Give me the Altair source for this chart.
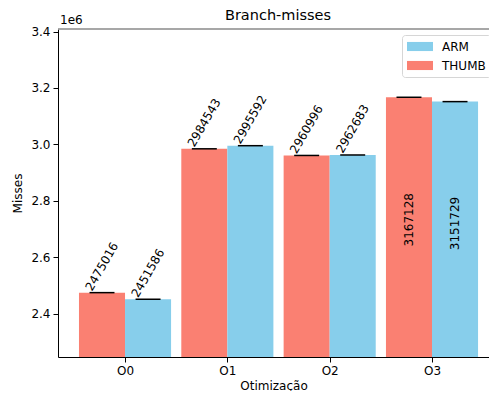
import altair as alt
import pandas as pd

opts = ["O0", "O1", "O2", "O3"]
thumb = [2475016, 2984543, 2960996, 3167128]
arm = [2451586, 2995592, 2962683, 3151729]
series = ["ARM", "THUMB"]
colors = ["#87CEEB", "#FA8072"]
y_ticks = [2.4e6, 2.6e6, 2.8e6, 3.0e6, 3.2e6, 3.4e6]

rows = []
for i, o in enumerate(opts):
    rows.append({"opt": o, "idx": i, "type": "THUMB", "value": thumb[i]})
    rows.append({"opt": o, "idx": i, "type": "ARM", "value": arm[i]})
df = pd.DataFrame(rows)

FONT = "DejaVu Sans"
W, H = 431, 328
xdom = [-0.655, 3.557]
ydom = [2.247e6, 3.409e6]
label_expr = "[" + ",".join(f"'{o}'" for o in opts) + "][datum.value]"

base = alt.Chart(df).transform_calculate(
    x0="datum.type == 'THUMB' ? datum.idx - 0.45 : datum.idx",
    x1="datum.type == 'THUMB' ? datum.idx : datum.idx + 0.45",
    xc="datum.type == 'THUMB' ? datum.idx - 0.225 : datum.idx + 0.225",
    e0="datum.xc - 0.122",
    e1="datum.xc + 0.122",
    zero="0",
)

xscale = alt.Scale(domain=xdom, nice=False, zero=False)
yscale = alt.Scale(domain=ydom, nice=False, zero=False)

bars = base.mark_bar(clip=True, opacity=1).encode(
    x=alt.X("x0:Q", scale=xscale,
            axis=alt.Axis(values=[0, 1, 2, 3], labelExpr=label_expr, grid=False,
                          title="Otimização", tickSize=5, tickColor="black",
                          domainColor="black", labelPadding=3, titlePadding=4)),
    x2="x1:Q",
    y=alt.Y("value:Q", scale=yscale,
            axis=alt.Axis(values=y_ticks, labelExpr="format(datum.value/1e6, '.1f')",
                          grid=False, title="Misses", tickSize=5, tickColor="black",
                          domainColor="black", labelPadding=3, titlePadding=6)),
    y2="zero:Q",
    color=alt.Color("type:N", scale=alt.Scale(domain=series, range=colors),
                    legend=alt.Legend(title=None, orient="none", legendX=344, legendY=6,
                                      symbolType="M-1,-0.7H3V0.7H-1Z", symbolSize=169,
                                      symbolStrokeWidth=0, symbolOpacity=1,
                                      labelFontSize=12, labelFont=FONT, labelOffset=22,
                                      rowPadding=6, padding=5, fillColor="white",
                                      strokeColor="#d6d6d6", cornerRadius=3)),
)

errs = base.mark_rule(color="black", strokeWidth=1.5, clip=True).encode(
    x="e0:Q", x2="e1:Q", y="value:Q"
)

top_labels = base.transform_filter("datum.value < 3.1e6").mark_text(
    angle=300, align="left", baseline="middle", fontSize=12, font=FONT,
    color="black", xOffset=-13.5, yOffset=-3
).encode(x="xc:Q", y="value:Q", text=alt.Text("value:Q", format="d"))

inner_labels = base.transform_filter("datum.value >= 3.1e6").transform_calculate(
    ly="datum.value * 0.863"
).mark_text(
    angle=270, align="center", baseline="middle", fontSize=12, font=FONT, color="black"
).encode(x="xc:Q", y="ly:Q", text=alt.Text("value:Q", format="d"))

offset_txt = alt.Chart(pd.DataFrame({"t": ["1e6"]})).mark_text(
    align="left", baseline="middle", fontSize=12, font=FONT, color="black"
).encode(x=alt.value(2), y=alt.value(-9), text="t:N")

title_txt = alt.Chart(pd.DataFrame({"t": ["Branch-misses"]})).mark_text(
    align="center", baseline="middle", fontSize=14.5, font=FONT, color="black"
).encode(x=alt.value(220), y=alt.value(-13), text="t:N")

top_line = alt.Chart(pd.DataFrame({"t": [0]})).mark_rule(color="#8a8a8a", strokeWidth=1.5).encode(
    x=alt.value(0), x2=alt.value(W), y=alt.value(0)
)

chart = alt.layer(bars, errs, top_labels, inner_labels, offset_txt, title_txt, top_line).properties(
    width=W, height=H,
    autosize=alt.AutoSizeParams(type="none"),
    padding={"left": 50, "top": 21, "right": 0, "bottom": 34},
).configure_view(stroke=None).configure_axis(
    labelFont=FONT, titleFont=FONT, labelFontSize=12, titleFontSize=12,
    titleFontWeight="normal", labelColor="black", titleColor="black"
)

chart.save("out.html", embed_options={"renderer": "svg", "actions": False})
